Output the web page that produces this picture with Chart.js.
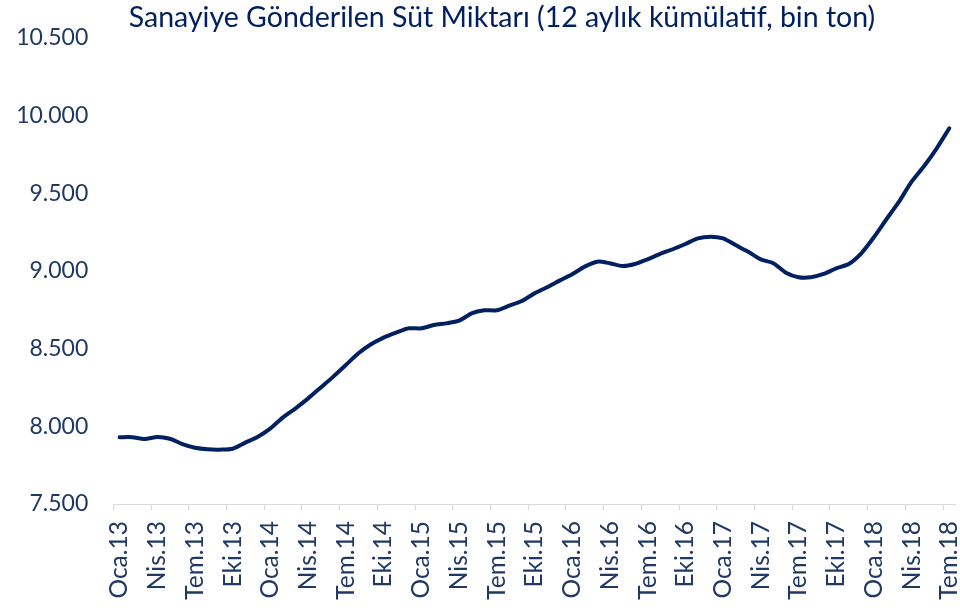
<!DOCTYPE html>
<html>
<head>
<meta charset="utf-8">
<script src="https://cdn.jsdelivr.net/npm/chart.js@4"></script>
<style>
body { margin: 0; background: #fff; }
#wrap { width: 960px; height: 608px; position: relative; }
</style>
</head>
<body>
<div id="wrap"><canvas id="sutChart" width="960" height="608"></canvas></div>
<script>
var chartTitle = 'Sanayiye Gönderilen Süt Miktarı (12 aylık kümülatif, bin ton)';
var monthNames = ['Oca','Şub','Mar','Nis','May','Haz','Tem','Ağu','Eyl','Eki','Kas','Ara'];
var years = ['13','14','15','16','17','18'];
var lastMonthIndex = 6; // Tem.18

// 12 aylik kumulatif, bin ton (Oca.13 - Tem.18)
var sutValues = [
    7930, 7930, 7918, 7932, 7920, 7886, 7862, 7852, 7850, 7856, 7895, 7933,
    7987, 8058, 8116, 8180, 8250, 8320, 8395, 8470, 8528, 8571, 8603, 8631,
    8631, 8652, 8663, 8680, 8727, 8747, 8747, 8777, 8807, 8856, 8895, 8938,
    8979, 9028, 9060, 9050, 9032, 9045, 9075, 9110, 9140, 9174, 9210, 9221,
    9210, 9167, 9124, 9075, 9050, 8989, 8960, 8960, 8981, 9017, 9045, 9114,
    9217, 9333, 9446, 9575, 9676, 9790, 9919
];

var yMin = 7500;
var yMax = 10500;
var yStep = 500;

var labels = [];
years.forEach(function(yy, k) {
    for (var m = 0; m < 12; m++) {
        if (k == years.length - 1 && m > lastMonthIndex) break;
        labels.push(monthNames[m] + '.' + yy);
    }
});

var navy = '#002060';
var tickColor = '#1F3864';
var fontFamily = 'Lato, "Open Sans", sans-serif';

function formatTr(v) {
    var s = String(Math.round(v));
    return s.replace(/\B(?=(\d{3})+(?!\d))/g, '.');
}

// draws the title where the original sits (a bit right of center)
var titlePlugin = {
    id: 'ustBaslik',
    afterDraw: function(chart) {
        var c = chart.ctx;
        c.save();
        c.font = '28.5px ' + fontFamily;
        c.fillStyle = navy;
        c.textAlign = 'center';
        c.textBaseline = 'alphabetic';
        c.fillText(chartTitle, 502, 27);
        c.restore();
    }
};

var ctx = document.getElementById('sutChart').getContext('2d');
var sutChart = new Chart(ctx, {
    type: 'line',
    data: {
        labels: labels,
        datasets: [{
            data: sutValues,
            borderColor: navy,
            borderWidth: 4,
            pointRadius: 0,
            tension: 0.25,
            borderJoinStyle: 'round',
            borderCapStyle: 'round',
            fill: false
        }]
    },
    options: {
        responsive: false,
        animation: false,
        layout: {
            padding: { top: 38, right: 4.4, bottom: 0, left: 0 }
        },
        plugins: {
            legend: { display: false },
            title: { display: false },
            tooltip: { enabled: false }
        },
        scales: {
            x: {
                offset: true,
                grid: {
                    offset: true,
                    drawOnChartArea: false,
                    drawTicks: true,
                    tickLength: 6,
                    color: function(c) {
                        return (c.index !== undefined && c.index % 3 === 0) ? '#d9d9d9' : 'rgba(0,0,0,0)';
                    }
                },
                border: { display: true, color: '#d9d9d9', width: 1 },
                ticks: {
                    autoSkip: false,
                    minRotation: 90,
                    maxRotation: 90,
                    padding: 11,
                    color: tickColor,
                    font: { family: fontFamily, size: 24.5 },
                    callback: function(val, i) {
                        return i % 3 === 0 ? this.getLabelForValue(val) : '';
                    }
                },
                afterFit: function(scale) {
                    scale.height = 104;
                    scale.paddingLeft = 0;
                    scale.paddingRight = 0;
                }
            },
            y: {
                min: yMin,
                max: yMax,
                grid: { display: false },
                border: { display: false },
                ticks: {
                    stepSize: yStep,
                    padding: 17,
                    color: tickColor,
                    font: { family: fontFamily, size: 23 },
                    callback: function(v) { return formatTr(v); }
                },
                afterFit: function(scale) {
                    scale.width = 113.3;
                }
            }
        }
    },
    plugins: [titlePlugin]
});
</script>
</body>
</html>
